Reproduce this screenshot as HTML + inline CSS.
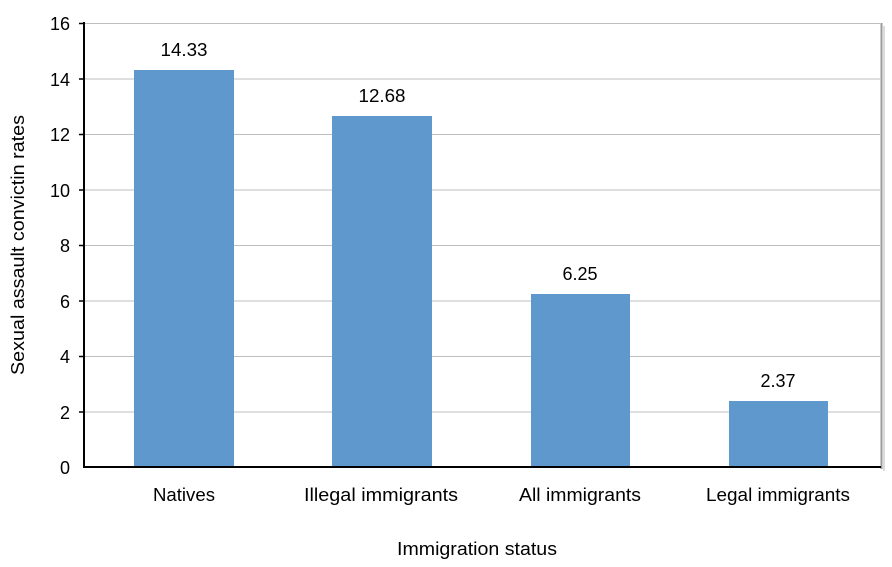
<!DOCTYPE html>
<html><head><style>body{margin:0;background:#fff}</style></head><body>
<svg width="892" height="562" xmlns="http://www.w3.org/2000/svg" font-family="Liberation Sans, Calibri, sans-serif">
<rect width="892" height="562" fill="#fff"/>
<g stroke="#bfbfbf" stroke-width="1">
<line x1="84" y1="23.5" x2="880" y2="23.5"/>
<line x1="84" y1="79" x2="880" y2="79"/>
<line x1="84" y1="134.5" x2="880" y2="134.5"/>
<line x1="84" y1="190" x2="880" y2="190"/>
<line x1="84" y1="245.5" x2="880" y2="245.5"/>
<line x1="84" y1="301" x2="880" y2="301"/>
<line x1="84" y1="356.5" x2="880" y2="356.5"/>
<line x1="84" y1="412" x2="880" y2="412"/>
</g>
<line x1="881.5" y1="23" x2="881.5" y2="469" stroke="#9a9a9a" stroke-width="2"/>
<line x1="884" y1="26" x2="884" y2="471" stroke="#dcdcdc" stroke-width="2"/>
<g fill="#5f98cc">
<rect x="134" y="70" width="100" height="397"/>
<rect x="332" y="116" width="100" height="351"/>
<rect x="531" y="294" width="99" height="173"/>
<rect x="729" y="401" width="99" height="66"/>
</g>
<g stroke="#000" stroke-width="2">
<line x1="84" y1="22" x2="84" y2="468"/>
<line x1="83" y1="467" x2="881" y2="467"/>
</g>
<g stroke="#000" stroke-width="1.5">
<line x1="79" y1="23.5" x2="84" y2="23.5"/><line x1="79" y1="79" x2="84" y2="79"/>
<line x1="79" y1="134.5" x2="84" y2="134.5"/><line x1="79" y1="190" x2="84" y2="190"/>
<line x1="79" y1="245.5" x2="84" y2="245.5"/><line x1="79" y1="301" x2="84" y2="301"/>
<line x1="79" y1="356.5" x2="84" y2="356.5"/><line x1="79" y1="412" x2="84" y2="412"/>
</g>
<g font-size="18" fill="#000" text-anchor="end">
<text x="70" y="30">16</text><text x="70" y="86">14</text><text x="70" y="141">12</text>
<text x="70" y="197">10</text><text x="70" y="252">8</text><text x="70" y="308">6</text>
<text x="70" y="363">4</text><text x="70" y="419">2</text><text x="70" y="474">0</text>
</g>
<g font-size="18" fill="#000" text-anchor="middle">
<text x="184" y="56" textLength="47" lengthAdjust="spacingAndGlyphs">14.33</text>
<text x="382" y="102" textLength="47" lengthAdjust="spacingAndGlyphs">12.68</text>
<text x="580" y="280">6.25</text><text x="778" y="387">2.37</text>
<text x="184" y="501" textLength="62" lengthAdjust="spacingAndGlyphs">Natives</text>
<text x="381" y="501" textLength="154" lengthAdjust="spacingAndGlyphs">Illegal immigrants</text>
<text x="580" y="501" textLength="122" lengthAdjust="spacingAndGlyphs">All immigrants</text>
<text x="778" y="501" textLength="144" lengthAdjust="spacingAndGlyphs">Legal immigrants</text>
<text x="477" y="555" textLength="160" lengthAdjust="spacingAndGlyphs">Immigration status</text>
<text transform="translate(24,245) rotate(-90)" textLength="260" lengthAdjust="spacingAndGlyphs">Sexual assault convictin rates</text>
</g>
</svg>
</body></html>
